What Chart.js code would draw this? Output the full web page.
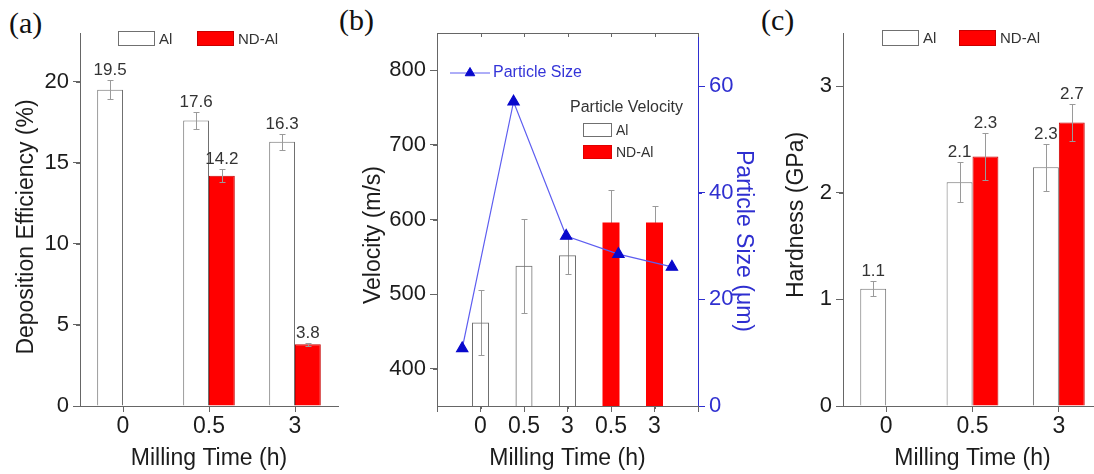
<!DOCTYPE html>
<html>
<head>
<meta charset="utf-8">
<script src="https://cdn.jsdelivr.net/npm/chart.js@4"></script>
<style>
  html, body { margin: 0; padding: 0; background: #fff; overflow: hidden; }
  body { width: 1094px; height: 474px; position: relative; }
  canvas { position: absolute; top: 0; }
  .tag { position: absolute; font-family: "Liberation Serif", "Times New Roman", serif; font-size: 30px; line-height: 30px; color: #111; }
</style>
</head>
<body>
<div class="tag" style="left:9px; top:8px">(a)</div>
<div class="tag" style="left:339px; top:5px">(b)</div>
<div class="tag" style="left:761px; top:5px">(c)</div>
<canvas id="depChart" width="345" height="474" style="left:0px"></canvas>
<canvas id="velChart" width="415" height="474" style="left:345px"></canvas>
<canvas id="hardChart" width="350" height="474" style="left:760px"></canvas>
<script>
// ---- data ----
const milling = ['0', '0.5', '3'];

// (a) deposition efficiency, %
const depAl = [19.5, 17.6, 16.3];
const depAlErr = [0.6, 0.5, 0.5];
const depNd = [null, 14.2, 3.8];
const depNdErr = [null, 0.4, 0.1];
const depTicks = [0, 5, 10, 15, 20];

// (b) particle velocity (m/s) and particle size (um)
const velLabels = ['0', '0.5', '3', '0.5', '3'];
const velAlPos = [1, 2, 3];
const velAl = [462, 538, 552];
const velAlErr = [44, 63, 25];
const velNdPos = [4, 5];
const velNd = [596, 596];
const velNdErr = [43, 22];
const velTicks = [400, 500, 600, 700, 800];
const sizePos = [0.58, 1.76, 2.97, 4.17, 5.4];
const sizeVals = [10.8, 57.1, 31.9, 28.5, 26.1];
const sizeTicks = [0, 20, 40, 60];

// (c) hardness, GPa
const hardAl = [1.1, 2.1, 2.24];
const hardAlErr = [0.07, 0.19, 0.22];
const hardAlText = ['1.1', '2.1', '2.3'];
const hardNd = [null, 2.34, 2.66];
const hardNdErr = [null, 0.22, 0.17];
const hardNdText = [null, '2.3', '2.7'];
const hardTicks = [0, 1, 2, 3];

const axisGray = '#666';
const textDark = '#1c1c1c';
const red = '#ff0000';
const blue = '#2f2fd0';
const fontFamily = '"Liberation Sans", Arial, sans-serif';
Chart.defaults.font.family = fontFamily;
Chart.defaults.color = textDark;

// error bars, drawn over or under the bars
function drawErrors(chart) {
  const ctx = chart.ctx;
  chart.data.datasets.forEach((ds, i) => {
    if (!ds.errors) return;
    const meta = chart.getDatasetMeta(i);
    meta.data.forEach((bar, j) => {
      const p = meta.controller.getParsed(j);
      const e = ds.errors[j];
      if (p.y == null || isNaN(p.y) || e == null) return;
      const yTop = Math.round(meta.yScale.getPixelForValue(p.y + e)) + 0.5;
      const yBot = Math.round(meta.yScale.getPixelForValue(p.y - e)) + 0.5;
      const x = Math.round(bar.x) + 0.5;
      ctx.save();
      ctx.strokeStyle = '#9a9a9a';
      ctx.lineWidth = 1;
      ctx.beginPath();
      ctx.moveTo(x, yTop); ctx.lineTo(x, yBot);
      ctx.moveTo(x - 3, yTop); ctx.lineTo(x + 3, yTop);
      ctx.moveTo(x - 3, yBot); ctx.lineTo(x + 3, yBot);
      ctx.stroke();
      ctx.restore();
    });
  });
}
const errorBars = {
  id: 'errorBars',
  beforeDatasetsDraw(chart, args, opts) { if (!opts.onTop) drawErrors(chart); },
  afterDatasetsDraw(chart, args, opts) { if (opts.onTop) drawErrors(chart); }
};

// numbers above the bars
const valueLabels = {
  id: 'valueLabels',
  afterDatasetsDraw(chart, args, opts) {
    if (!opts.show) return;
    const ctx = chart.ctx;
    ctx.save();
    ctx.font = '17px ' + fontFamily;
    ctx.fillStyle = '#333';
    ctx.textAlign = 'center';
    ctx.textBaseline = 'alphabetic';
    chart.data.datasets.forEach((ds, i) => {
      const meta = chart.getDatasetMeta(i);
      meta.data.forEach((bar, j) => {
        const p = meta.controller.getParsed(j);
        if (p.y == null || isNaN(p.y)) return;
        const e = ds.errors ? (ds.errors[j] || 0) : 0;
        const txt = ds.valueLabels ? ds.valueLabels[j] : p.y.toFixed(1);
        ctx.fillText(txt, bar.x, meta.yScale.getPixelForValue(p.y + e) - 5);
      });
    });
    ctx.restore();
  }
};

// vertical axis titles, placed where the figure has them
const sideTitles = {
  id: 'sideTitles',
  afterDraw(chart, args, opts) {
    const ctx = chart.ctx;
    (opts.items || []).forEach(it => {
      ctx.save();
      ctx.translate(it.x, it.y);
      ctx.rotate(it.rotate * Math.PI / 180);
      ctx.font = '23px ' + fontFamily;
      ctx.fillStyle = it.color || textDark;
      ctx.textAlign = 'center';
      ctx.textBaseline = 'middle';
      ctx.fillText(it.text, 0, 0);
      ctx.restore();
    });
  }
};

// legend boxes placed inside the canvas
const boxLegend = {
  id: 'boxLegend',
  afterDraw(chart, args, opts) {
    const ctx = chart.ctx;
    ctx.save();
    ctx.textBaseline = 'middle';
    ctx.textAlign = 'left';
    (opts.items || []).forEach(it => {
      if (it.text) {
        ctx.font = it.font;
        ctx.fillStyle = it.color || '#333';
        ctx.fillText(it.text, it.x, it.y);
        return;
      }
      const ds = chart.data.datasets[it.dataset];
      ctx.font = it.font;
      if (it.kind === 'line') {
        ctx.strokeStyle = ds.borderColor;
        ctx.lineWidth = 1;
        ctx.beginPath();
        ctx.moveTo(it.x, it.y); ctx.lineTo(it.x + it.w, it.y);
        ctx.stroke();
        ctx.fillStyle = ds.pointBackgroundColor;
        ctx.strokeStyle = ds.pointBorderColor;
        Chart.helpers.drawPoint(ctx, { pointStyle: ds.pointStyle, radius: ds.pointRadius - 1, borderWidth: 1 }, it.x + it.w / 2, it.y);
        ctx.fillStyle = it.color;
        ctx.fillText(ds.label, it.x + it.w + 3, it.y);
        return;
      }
      ctx.fillStyle = '#fff';
      ctx.fillRect(it.x, it.y, it.w, it.h);
      ctx.fillStyle = ds.backgroundColor;
      ctx.fillRect(it.x, it.y, it.w, it.h);
      ctx.strokeStyle = ds.borderColor;
      ctx.lineWidth = 1;
      ctx.strokeRect(it.x + 0.5, it.y + 0.5, it.w - 1, it.h - 1);
      ctx.fillStyle = '#333';
      ctx.fillText(ds.label, it.x + it.w + 4, it.y + it.h / 2 + 1);
    });
    ctx.restore();
  }
};

// short minor ticks between the major ones (or inward ticks on a top frame)
const minorTicks = {
  id: 'minorTicks',
  afterDraw(chart, args, opts) {
    const ctx = chart.ctx;
    (opts.marks || []).forEach(m => {
      const s = chart.scales[m.axis];
      const vals = s.ticks.map(t => t.value);
      const major = vals.length > 1 ? vals[1] - vals[0] : 1;
      const step = m.every ? major : major / 2;
      let v = vals[0] - Math.floor((vals[0] - s.min) / step + 1e-9) * step;
      const dir = m.inward ? -1 : 1;
      ctx.save();
      ctx.strokeStyle = m.color || axisGray;
      ctx.lineWidth = 1;
      ctx.beginPath();
      for (; v <= s.max + 1e-9; v += step) {
        if (!m.every && vals.some(t => Math.abs(t - v) < 1e-9)) continue;
        const p = Math.round(s.getPixelForValue(v)) + 0.5;
        if (s.position === 'left') { ctx.moveTo(s.right, p); ctx.lineTo(s.right - dir * m.len, p); }
        else if (s.position === 'right') { ctx.moveTo(s.left, p); ctx.lineTo(s.left + dir * m.len, p); }
        else if (s.position === 'bottom') { ctx.moveTo(p, s.top); ctx.lineTo(p, s.top + dir * m.len); }
        else { ctx.moveTo(p, s.bottom); ctx.lineTo(p, s.bottom - dir * m.len); }
      }
      ctx.stroke();
      ctx.restore();
    });
  }
};

const tickFont = { size: 22 };
const xTickFont = { size: 23 };
const titleFont = { size: 23 };
const legendFont = '15px ' + fontFamily;

function yAxis(min, max, ticks, width, color) {
  return {
    min: min, max: max,
    afterBuildTicks: s => { s.ticks = ticks.map(v => ({ value: v })); },
    grid: { drawOnChartArea: false, tickLength: 7, color: color || axisGray },
    border: { color: color || axisGray },
    ticks: { font: tickFont, padding: 4, color: color || textDark },
    afterFit: s => { s.width = width; }
  };
}
function categoryX() {
  return {
    grid: { offset: false, drawOnChartArea: false, tickLength: 6, color: axisGray },
    border: { color: axisGray },
    ticks: { font: xTickFont, padding: 1 },
    title: { display: true, text: 'Milling Time (h)', font: titleFont, padding: { top: 0, bottom: 2 } },
    afterFit: s => { s.height = 68; }
  };
}

// (a) Deposition efficiency
const depCanvas = document.getElementById('depChart');
if (depCanvas) {
  new Chart(depCanvas, {
    type: 'bar',
    data: {
      labels: milling,
      datasets: [{
        label: 'Al', data: depAl, errors: depAlErr,
        backgroundColor: '#ffffff', borderColor: '#707070', borderWidth: 1
      }, {
        label: 'ND-Al', data: depNd, errors: depNdErr,
        backgroundColor: red, borderColor: '#c80000', borderWidth: 1
      }]
    },
    options: {
      responsive: false, animation: false,
      layout: { padding: { top: 33, right: 7, left: 0, bottom: 0 } },
      datasets: { bar: { categoryPercentage: 0.6, barPercentage: 1 } },
      plugins: {
        legend: { display: false }, tooltip: { enabled: false },
        errorBars: { onTop: true },
        valueLabels: { show: true },
        sideTitles: { items: [{ text: 'Deposition Efficiency (%)', x: 27, y: 227, rotate: -90 }] },
        boxLegend: { items: [
          { dataset: 0, x: 118, y: 31, w: 37, h: 15, font: legendFont },
          { dataset: 1, x: 197, y: 31, w: 37, h: 15, font: legendFont }
        ] },
        minorTicks: { marks: [{ axis: 'y', len: 4 }] }
      },
      scales: {
        x: categoryX(),
        y: yAxis(0, 23, depTicks, 80)
      }
    },
    plugins: [errorBars, valueLabels, sideTitles, boxLegend, minorTicks]
  });
}

// (b) Particle velocity with particle size on a second axis
const velCanvas = document.getElementById('velChart');
if (velCanvas) {
  new Chart(velCanvas, {
    type: 'bar',
    data: {
      datasets: [{
        type: 'line', label: 'Particle Size', order: 0,
        data: sizePos.map((x, i) => ({ x: x, y: sizeVals[i] })),
        xAxisID: 'x', yAxisID: 'y2',
        borderColor: '#5d5df0', borderWidth: 1.2,
        pointStyle: 'triangle', pointRadius: 6.5,
        pointBackgroundColor: '#0808cc', pointBorderColor: '#0808cc'
      }, {
        label: 'Al', order: 1, errors: velAlErr,
        data: velAlPos.map((x, i) => ({ x: x, y: velAl[i] })),
        xAxisID: 'x', yAxisID: 'y', grouped: false, maxBarThickness: 17,
        backgroundColor: 'rgba(255,255,255,0)', borderColor: '#707070', borderWidth: 1
      }, {
        label: 'ND-Al', order: 1, errors: velNdErr,
        data: velNdPos.map((x, i) => ({ x: x, y: velNd[i] })),
        xAxisID: 'x', yAxisID: 'y', grouped: false, maxBarThickness: 17,
        backgroundColor: red, borderColor: '#e00000', borderWidth: 0
      }]
    },
    options: {
      responsive: false, animation: false,
      layout: { padding: { top: 33, right: 0, left: 0, bottom: 0 } },
      plugins: {
        legend: { display: false }, tooltip: { enabled: false },
        errorBars: { onTop: false },
        sideTitles: { items: [
          { text: 'Velocity (m/s)', x: 29, y: 235, rotate: -90 },
          { text: 'Particle Size (\u03bcm)', x: 398, y: 241, rotate: 90, color: blue }
        ] },
        boxLegend: { items: [
          { dataset: 0, kind: 'line', x: 105, y: 73, w: 40, color: '#3434d8', font: '16px ' + fontFamily },
          { text: 'Particle Velocity', x: 225, y: 108, color: '#333', font: '16px ' + fontFamily },
          { dataset: 1, x: 238, y: 123, w: 29, h: 14, font: '14px ' + fontFamily },
          { dataset: 2, x: 238, y: 145, w: 29, h: 14, font: '14px ' + fontFamily }
        ] },
        minorTicks: { marks: [
          { axis: 'y', len: 4 },
          { axis: 'y2', len: 4, color: blue },
          { axis: 'x', len: 3 },
          { axis: 'xTop', len: 4, every: true, inward: true }
        ] }
      },
      scales: {
        x: {
          type: 'linear', min: 0, max: 6, offset: false,
          ticks: { stepSize: 1, font: xTickFont, padding: 1, callback: v => velLabels[v - 1] || '' },
          grid: { offset: false, drawOnChartArea: false, tickLength: 6, color: axisGray },
          border: { color: axisGray },
          title: { display: true, text: 'Milling Time (h)', font: titleFont, padding: { top: 0, bottom: 2 } },
          afterFit: s => { s.height = 68; }
        },
        xTop: {
          type: 'linear', position: 'top', min: 0, max: 6, offset: false,
          ticks: { display: false, stepSize: 1 },
          grid: { offset: false, drawOnChartArea: false, drawTicks: false },
          border: { color: axisGray },
          afterFit: s => { s.height = 0; }
        },
        y: yAxis(350, 850, velTicks, 92),
        y2: Object.assign(yAxis(0, 70, sizeTicks, 62, blue), { position: 'right' })
      }
    },
    plugins: [errorBars, sideTitles, boxLegend, minorTicks]
  });
}

// (c) Hardness
const hardCanvas = document.getElementById('hardChart');
if (hardCanvas) {
  new Chart(hardCanvas, {
    type: 'bar',
    data: {
      labels: milling,
      datasets: [{
        label: 'Al', data: hardAl, errors: hardAlErr, valueLabels: hardAlText,
        backgroundColor: '#ffffff', borderColor: '#707070', borderWidth: 1
      }, {
        label: 'ND-Al', data: hardNd, errors: hardNdErr, valueLabels: hardNdText,
        backgroundColor: red, borderColor: '#c80000', borderWidth: 1
      }]
    },
    options: {
      responsive: false, animation: false,
      layout: { padding: { top: 33, right: 8, left: 0, bottom: 0 } },
      datasets: { bar: { categoryPercentage: 0.6, barPercentage: 1 } },
      plugins: {
        legend: { display: false }, tooltip: { enabled: false },
        errorBars: { onTop: true },
        valueLabels: { show: true },
        sideTitles: { items: [{ text: 'Hardness (GPa)', x: 37, y: 215, rotate: -90 }] },
        boxLegend: { items: [
          { dataset: 0, x: 122, y: 30, w: 37, h: 16, font: legendFont },
          { dataset: 1, x: 199, y: 30, w: 37, h: 16, font: legendFont }
        ] },
        minorTicks: { marks: [{ axis: 'y', len: 4 }] }
      },
      scales: {
        x: categoryX(),
        y: yAxis(0, 3.5, hardTicks, 83)
      }
    },
    plugins: [errorBars, valueLabels, sideTitles, boxLegend, minorTicks]
  });
}
</script>
</body>
</html>
